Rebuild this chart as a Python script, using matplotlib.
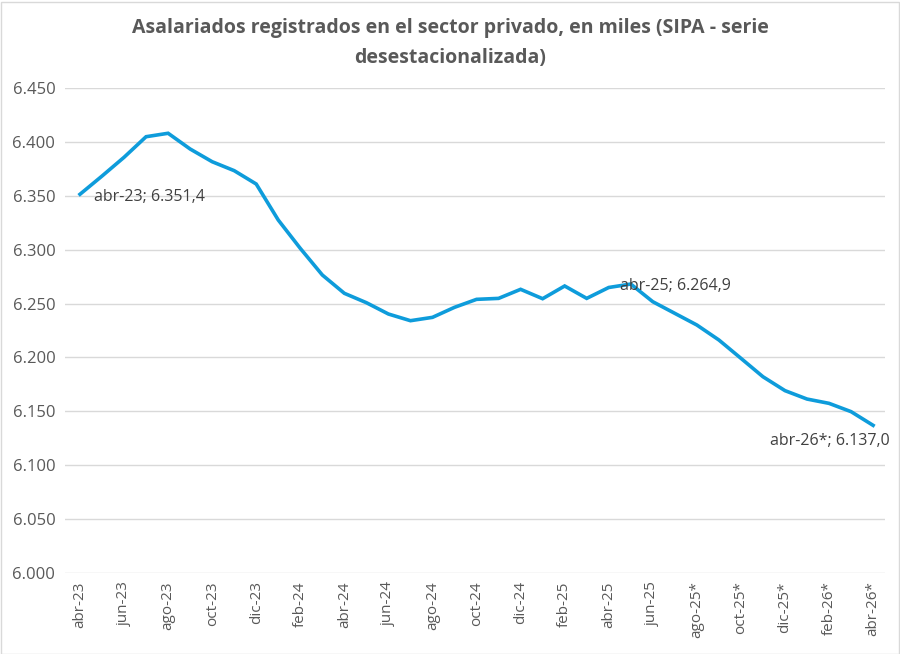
import matplotlib.pyplot as plt
from matplotlib.patches import Rectangle
from matplotlib.ticker import FuncFormatter

plt.rcParams['font.family'] = ['Open Sans', 'DejaVu Sans']

months = ['abr-23', 'may-23', 'jun-23', 'jul-23', 'ago-23', 'sep-23', 'oct-23', 'nov-23', 'dic-23',
          'ene-24', 'feb-24', 'mar-24', 'abr-24', 'may-24', 'jun-24', 'jul-24', 'ago-24', 'sep-24',
          'oct-24', 'nov-24', 'dic-24', 'ene-25', 'feb-25', 'mar-25', 'abr-25', 'may-25', 'jun-25',
          'jul-25*', 'ago-25*', 'sep-25*', 'oct-25*', 'nov-25*', 'dic-25*', 'ene-26*', 'feb-26*',
          'mar-26*', 'abr-26*']
values = [6351.4, 6368.3, 6385.7, 6404.8, 6408.0, 6393.4, 6381.6, 6373.3, 6360.9,
          6327.5, 6301.2, 6276.5, 6259.5, 6250.8, 6240.3, 6234.1, 6237.2, 6246.5,
          6253.9, 6254.8, 6263.2, 6254.5, 6266.3, 6254.8, 6264.9, 6268.1, 6251.7,
          6240.9, 6230.1, 6216.2, 6199.2, 6182.1, 6169.2, 6161.4, 6157.4,
          6149.7, 6137.0]

fig = plt.figure(figsize=(9, 6.54), dpi=100)
ax = fig.add_axes([65 / 900, 1 - 573 / 654, 820 / 900, 485 / 654])

x = list(range(len(values)))
ax.plot(x, values, color='#0E9CDB', lw=2.6, solid_joinstyle='miter')

ax.set_ylim(6000, 6450)
ax.set_yticks(range(6000, 6451, 50))
ax.yaxis.set_major_formatter(FuncFormatter(lambda v, p: f'{v / 1000:.3f}'))
ax.set_xlim(-0.68, 36.54)
ax.set_xticks(x[::2])
ax.set_xticklabels(months[::2], rotation=90)
ax.grid(axis='y', color='#d9d9d9', lw=1)
ax.set_axisbelow(True)
for s in ax.spines.values():
    s.set_visible(False)
ax.tick_params(length=0, colors='#595959')
ax.tick_params(axis='y', labelsize=12, pad=7)
ax.tick_params(axis='x', labelsize=11, pad=6)

lbl = dict(fontsize=11.5, color='#404040')
ax.annotate(f'{months[0]}; 6.351,4', (0, values[0]), xytext=(10, -2), textcoords='offset points',
            ha='left', va='center', **lbl)
ax.annotate(f'{months[24]}; 6.264,9', (24, values[24]), xytext=(8, 1), textcoords='offset points',
            ha='left', va='center', **lbl)
ax.annotate(f'{months[36]}; 6.137,0', (36, values[36]), xytext=(-74, -11), textcoords='offset points',
            ha='left', va='center', **lbl)

fig.text(0.5, 1 - 43 / 654, 'Asalariados registrados en el sector privado, en miles (SIPA - serie\ndesestacionalizada)',
         ha='center', va='center', fontsize=14, fontweight='bold', color='#595959', linespacing=1.65)

fig.patches.append(Rectangle((0.5 / 900, 0.5 / 654), 898 / 900, 652 / 654, transform=fig.transFigure,
                             fill=False, edgecolor='#d9d9d9', lw=1))

fig.savefig('out.png', dpi=100)
